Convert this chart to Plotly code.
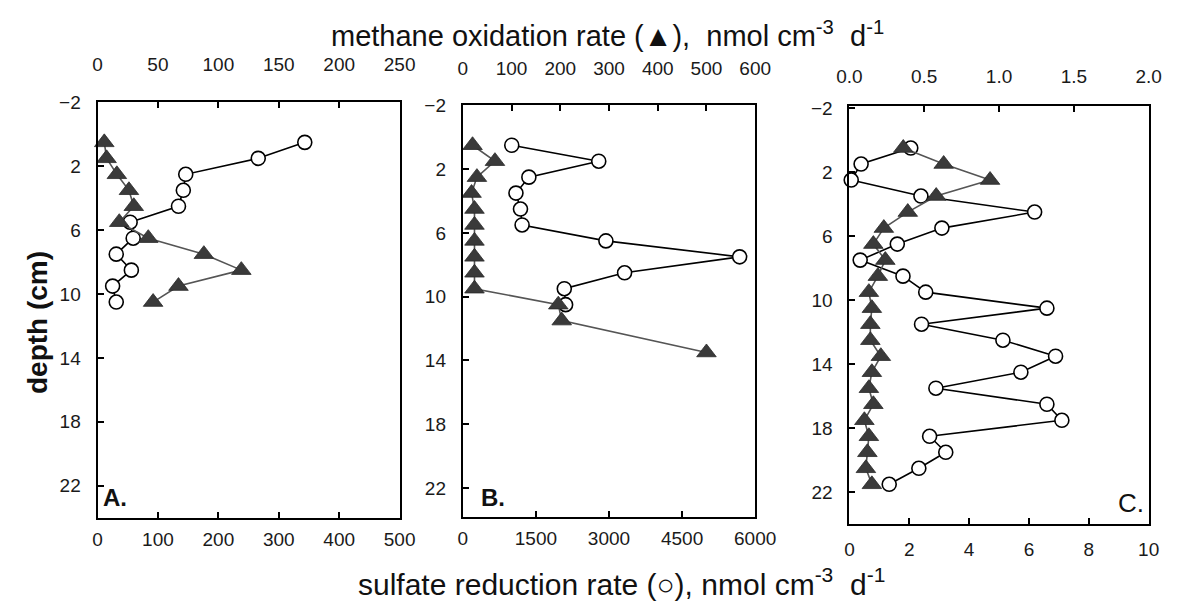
import plotly.graph_objects as go

# ---------------- data ----------------
depth_A = [0.5, 1.5, 2.5, 3.5, 4.5, 5.5, 6.5, 7.5, 8.5, 9.5, 10.5]
sulfate_A = [343, 266, 146, 142, 134, 54, 59, 31, 56, 25, 31]
methane_A = [5.6, 7.5, 16, 26, 30, 18, 42, 88, 119, 67, 46]

depth_B_sr = [0.5, 1.5, 2.5, 3.5, 4.5, 5.5, 6.5, 7.5, 8.5, 9.5, 10.5]
sulfate_B = [1005, 2790, 1356, 1091, 1184, 1217, 2937, 5681, 3320, 2083, 2110]
depth_B_mo = [0.5, 1.5, 2.5, 3.5, 4.5, 5.5, 6.5, 7.5, 8.5, 9.5, 10.5, 11.5, 13.5]
methane_B = [20, 66, 29, 18, 24, 24, 24, 24, 24, 24, 196, 203, 500]

depth_C = [0.5, 1.5, 2.5, 3.5, 4.5, 5.5, 6.5, 7.5, 8.5, 9.5, 10.5,
           11.5, 12.5, 13.5, 14.5, 15.5, 16.5, 17.5, 18.5, 19.5, 20.5, 21.5]
sulfate_C = [2.05, 0.39, 0.06, 2.39, 6.19, 3.09, 1.6, 0.36, 1.79, 2.55, 6.6,
             2.41, 5.13, 6.89, 5.73, 2.89, 6.6, 7.1, 2.68, 3.22, 2.32, 1.33]
methane_C = [0.36, 0.63, 0.94, 0.58, 0.39, 0.23, 0.16, 0.24, 0.19, 0.13, 0.15,
             0.14, 0.14, 0.21, 0.15, 0.13, 0.16, 0.10, 0.13, 0.12, 0.11, 0.15]

depth_ticks = [-2, 2, 6, 10, 14, 18, 22]
bottom_ticks_A = [0, 100, 200, 300, 400, 500]
top_ticks_A = [0, 50, 100, 150, 200, 250]
bottom_ticks_B = [0, 1500, 3000, 4500, 6000]
top_ticks_B = [0, 100, 200, 300, 400, 500, 600]
bottom_ticks_C = [0, 2, 4, 6, 8, 10]
top_ticks_C = [0.0, 0.5, 1.0, 1.5, 2.0]
top_text_C = ["0.0", "0.5", "1.0", "1.5", "2.0"]

FONT = "Liberation Sans, Arial, sans-serif"
TRI_FILL = "#3a3a3a"
TRI_LINE = "#555555"

fig = go.Figure()

def add_panel(i, d_sr, sr, d_mo, mo):
    xb = "x" if i == 1 else f"x{i}"
    xt = f"x{i + 3}"
    ya = "y" if i == 1 else f"y{i}"
    fig.add_trace(go.Scatter(
        x=sr, y=d_sr, xaxis=xb, yaxis=ya, mode="lines+markers",
        line=dict(color="black", width=1.6),
        marker=dict(symbol="circle", size=14, color="white",
                    line=dict(color="black", width=1.6)),
        showlegend=False, cliponaxis=False))
    fig.add_trace(go.Scatter(
        x=mo, y=d_mo, xaxis=xt, yaxis=ya, mode="lines+markers",
        line=dict(color=TRI_LINE, width=1.6),
        marker=dict(symbol="triangle-up", size=17, color=TRI_FILL,
                    line=dict(color="#2a2a2a", width=0.8)),
        showlegend=False, cliponaxis=False))

add_panel(1, depth_A, sulfate_A, depth_A, methane_A)
add_panel(2, depth_B_sr, sulfate_B, depth_B_mo, methane_B)
add_panel(3, depth_C, sulfate_C, depth_C, methane_C)

W, H = 1191, 605
frames = [  # left, right, top, bottom in px
    (87, 398, 94, 517),
    (463, 764, 97, 516),
    (861, 1169, 98, 523),
]
yranges = [[24.05, -2], [23.85, -2], [24.0, -2.1]]
bottoms = [(bottom_ticks_A, [0, 500]), (bottom_ticks_B, [0, 6000]),
           (bottom_ticks_C, [0, 10])]
tops = [(top_ticks_A, [0, 250], None), (top_ticks_B, [0, 600], None),
        (top_ticks_C, [0, 2], top_text_C)]
top_standoff = [27, 26, 19]
bot_standoff = [3, 3, 7]

tickfont = dict(family=FONT, size=19, color="#1a1a1a")
layout = {}
for k in range(3):
    l, r, t, b = frames[k]
    dx = [l / W, r / W]
    dy = [1 - b / H, 1 - t / H]
    n = k + 1
    xb = "xaxis" if n == 1 else f"xaxis{n}"
    ya = "yaxis" if n == 1 else f"yaxis{n}"
    yref = "y" if n == 1 else f"y{n}"
    xbref = "x" if n == 1 else f"x{n}"
    tv, rg = bottoms[k]
    layout[xb] = dict(domain=dx, anchor=yref, range=rg, tickvals=tv,
                      showline=True, mirror=True, linecolor="black", linewidth=2,
                      ticks="inside", ticklen=6, tickwidth=2, tickcolor="black",
                      showgrid=False, zeroline=False, tickfont=tickfont,
                      ticklabelstandoff=bot_standoff[k])
    tv2, rg2, tt2 = tops[k]
    top = dict(domain=dx, anchor=yref, overlaying=xbref, side="top", range=rg2,
               tickvals=tv2, showline=False, ticks="inside", ticklen=6,
               tickwidth=2, tickcolor="black", showgrid=False, zeroline=False,
               tickfont=tickfont, ticklabelstandoff=top_standoff[k])
    if tt2 is not None:
        top["ticktext"] = tt2
    layout[f"xaxis{n + 3}"] = top
    layout[ya] = dict(domain=dy, anchor=xbref, range=yranges[k], tickvals=depth_ticks,
                      showline=True, mirror=True, linecolor="black", linewidth=2,
                      ticks="inside", ticklen=6, tickwidth=2, tickcolor="black",
                      showgrid=False, zeroline=False, tickfont=tickfont,
                      ticklabelstandoff=11)

annotations = [
    dict(text="methane oxidation rate (▲),  nmol cm<sup>-3</sup>  d<sup>-1</sup>",
         x=612 / W, y=1 - 24 / H, xref="paper", yref="paper", showarrow=False,
         font=dict(family=FONT, size=29, color="#111"), xanchor="center", yanchor="middle"),
    dict(text="sulfate reduction rate (○), nmol cm<sup>-3</sup>  d<sup>-1</sup>",
         x=626 / W, y=1 - 582 / H, xref="paper", yref="paper", showarrow=False,
         font=dict(family=FONT, size=30, color="#111"), xanchor="center", yanchor="middle"),
    dict(text="<b>depth (cm)</b>", x=25 / W, y=1 - 318 / H, xref="paper", yref="paper",
         showarrow=False, textangle=-90,
         font=dict(family=FONT, size=28, color="#111"), xanchor="center", yanchor="middle"),
    dict(text="<b>A.</b>", x=105 / W, y=1 - 496 / H, xref="paper", yref="paper",
         showarrow=False, font=dict(family=FONT, size=24, color="#111"),
         xanchor="center", yanchor="middle"),
    dict(text="<b>B.</b>", x=494 / W, y=1 - 496 / H, xref="paper", yref="paper",
         showarrow=False, font=dict(family=FONT, size=24, color="#111"),
         xanchor="center", yanchor="middle"),
    dict(text="C.", x=1151 / W, y=1 - 501 / H, xref="paper", yref="paper",
         showarrow=False, font=dict(family=FONT, size=26, color="#111"),
         xanchor="center", yanchor="middle"),
]

fig.update_layout(
    width=W, height=H, margin=dict(l=0, r=0, t=0, b=0),
    paper_bgcolor="white", plot_bgcolor="white",
    annotations=annotations, showlegend=False, **layout)

fig.write_html("out.html")
